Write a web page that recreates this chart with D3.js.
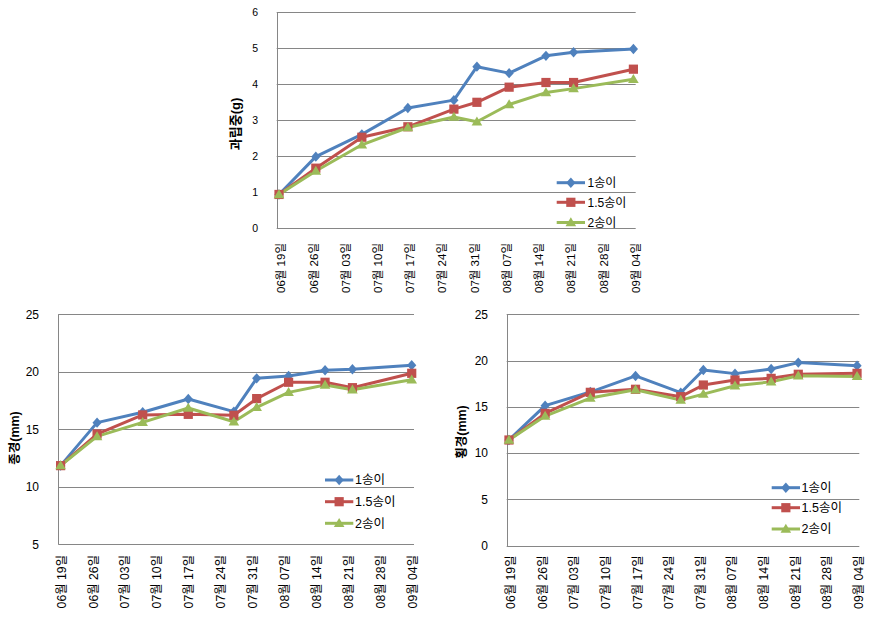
<!DOCTYPE html>
<html><head><meta charset="utf-8">
<script src="https://cdn.jsdelivr.net/npm/d3@7"></script>
<style>
body{margin:0;background:#fff}
svg{display:block}
text{font-family:"Liberation Sans","Noto Sans CJK KR",sans-serif;fill:#000}
</style>
</head><body>
<svg id="chart" width="871" height="622"></svg>
<script>
// ---------- data ----------
const sampleDates = ["2010-06-19","2010-06-27","2010-07-07","2010-07-17","2010-07-27","2010-08-01","2010-08-08","2010-08-16","2010-08-22","2010-09-04"];
const tickDates = ["2010-06-19","2010-06-26","2010-07-03","2010-07-10","2010-07-17","2010-07-24","2010-07-31","2010-08-07","2010-08-14","2010-08-21","2010-08-28","2010-09-04"];
const tickLabels = ["06월 19일","06월 26일","07월 03일","07월 10일","07월 17일","07월 24일","07월 31일","08월 07일","08월 14일","08월 21일","08월 28일","09월 04일"];
const seriesNames = ["1송이","1.5송이","2송이"];

const weight1  = [0.94, 1.99, 2.61, 3.34, 3.56, 4.49, 4.31, 4.79, 4.89, 4.98];
const weight15 = [0.94, 1.67, 2.53, 2.82, 3.31, 3.50, 3.92, 4.05, 4.05, 4.42];
const weight2  = [0.94, 1.59, 2.32, 2.80, 3.09, 2.96, 3.44, 3.77, 3.88, 4.14];

const length1  = [11.84, 15.58, 16.48, 17.64, 16.54, 19.43, 19.64, 20.13, 20.22, 20.57];
const length15 = [11.84, 14.59, 16.25, 16.30, 16.22, 17.67, 19.09, 19.09, 18.62, 19.87];
const length2  = [11.84, 14.38, 15.60, 16.85, 15.66, 16.91, 18.21, 18.85, 18.44, 19.31];

const width1  = [11.42, 15.13, 16.60, 18.34, 16.53, 18.98, 18.59, 19.09, 19.78, 19.45];
const width15 = [11.42, 14.30, 16.57, 16.90, 16.10, 17.36, 17.90, 18.08, 18.52, 18.62];
const width2  = [11.42, 14.00, 15.95, 16.85, 15.73, 16.38, 17.28, 17.70, 18.36, 18.29];

// ---------- styles / layout ----------
const colors = ["#4F81BD","#C0504D","#9BBB59"];
const diamond = {draw(ctx){ ctx.moveTo(0,-5.2); ctx.lineTo(4.6,0); ctx.lineTo(0,5.2); ctx.lineTo(-4.6,0); ctx.closePath(); }};
const square = {draw(ctx){ ctx.moveTo(-4.6,-4.6); ctx.lineTo(4.6,-4.6); ctx.lineTo(4.6,4.6); ctx.lineTo(-4.6,4.6); ctx.closePath(); }};
const triangle = {draw(ctx){ ctx.moveTo(0,-5.3); ctx.lineTo(5.3,3.7); ctx.lineTo(-5.3,3.7); ctx.closePath(); }};
const markers = [diamond, square, triangle];
const gridColor = "#868686";

const parse = d3.utcParse("%Y-%m-%d");
const dates = sampleDates.map(parse);
const ticks = tickDates.map(parse);
const halfDay = 12*3600*1000;

const panels = [
  {series:[weight1,weight15,weight2], x0:276.7, x1:635.7, yTop:12.3, yBot:228.3, min:0, max:6, step:1,
   title:"과립중(g)", titleX:235, titleY:124, tickRight:258, tickFont:10.5, labelTop:243, labelFont:11.5, labelDx:2.4,
   legX0:556.7, legX1:585, legTextX:587.5, legY:[182.7,202.3,222.5], legFont:12, titleFont:13},
  {series:[length1,length15,length2], x0:58.3, x1:414, yTop:314.3, yBot:544.3, min:5, max:25, step:5,
   title:"종경(mm)", titleX:15, titleY:438, tickRight:39, tickFont:12, labelTop:555, labelFont:12.3, labelDx:1,
   legX0:325, legX1:353.3, legTextX:355, legY:[480,501.7,523.3], legFont:12.5, titleFont:12.5},
  {series:[width1,width15,width2], x0:506.7, x1:859.3, yTop:314.3, yBot:545.7, min:0, max:25, step:5,
   title:"횡경(mm)", titleX:461.7, titleY:432, tickRight:488, tickFont:12, labelTop:555.5, labelFont:12.3, labelDx:2,
   legX0:771.7, legX1:800, legTextX:801.5, legY:[487.7,507.7,529], legFont:12.5, titleFont:12.5}
];

const svg = d3.select("#chart");

panels.forEach(p => {
  const g = svg.append("g");
  const x = d3.scaleUtc()
    .domain([new Date(ticks[0].getTime()-halfDay), new Date(ticks[ticks.length-1].getTime()+halfDay)])
    .range([p.x0, p.x1]);
  const y = d3.scaleLinear().domain([p.min, p.max]).range([p.yBot, p.yTop]);
  const yTicks = d3.range(p.min, p.max + p.step/2, p.step);

  // gridlines
  g.selectAll("line.grid").data(yTicks.filter(v => v > p.min)).enter().append("line")
    .attr("x1", p.x0).attr("x2", p.x1)
    .attr("y1", d => Math.round(y(d))+0.5).attr("y2", d => Math.round(y(d))+0.5)
    .attr("stroke", gridColor).attr("stroke-width", 1);
  // axes lines
  g.append("line").attr("x1", Math.round(p.x0)+0.5).attr("x2", Math.round(p.x0)+0.5)
    .attr("y1", p.yTop).attr("y2", Math.round(p.yBot)+0.5).attr("stroke", gridColor);
  g.append("line").attr("x1", p.x0).attr("x2", p.x1)
    .attr("y1", Math.round(p.yBot)+0.5).attr("y2", Math.round(p.yBot)+0.5).attr("stroke", gridColor);

  // y tick labels
  g.selectAll("text.yt").data(yTicks).enter().append("text")
    .attr("x", p.tickRight).attr("y", d => y(d)).attr("dy", "0.35em")
    .attr("text-anchor", "end").attr("font-size", p.tickFont).text(d => d);

  // y title
  g.append("text")
    .attr("transform", `translate(${p.titleX},${p.titleY}) rotate(-90)`)
    .attr("text-anchor", "middle").attr("dominant-baseline", "central")
    .attr("font-size", p.titleFont).attr("font-weight", "bold").text(p.title);

  // x labels
  g.selectAll("text.xt").data(ticks).enter().append("text")
    .attr("transform", (d,i) => `translate(${x(d)+p.labelDx},${p.labelTop}) rotate(-90)`)
    .attr("text-anchor", "end").attr("dominant-baseline", "central")
    .attr("font-size", p.labelFont).text((d,i) => tickLabels[i]);

  // series
  const line = d3.line().x((d,i) => x(dates[i])).y(d => y(d));
  p.series.forEach((s, k) => {
    g.append("path").datum(s).attr("d", line)
      .attr("fill", "none").attr("stroke", colors[k]).attr("stroke-width", 3)
      .attr("stroke-linejoin", "round");
  });
  p.series.forEach((s, k) => {
    g.selectAll(null).data(s).enter().append("path")
      .attr("d", d3.symbol().type(markers[k]))
      .attr("transform", (d,i) => `translate(${x(dates[i])},${y(d)})`)
      .attr("fill", colors[k]);
  });

  // legend
  seriesNames.forEach((name, k) => {
    const ly = p.legY[k];
    g.append("line").attr("x1", p.legX0).attr("x2", p.legX1).attr("y1", ly).attr("y2", ly)
      .attr("stroke", colors[k]).attr("stroke-width", 3);
    g.append("path").attr("d", d3.symbol().type(markers[k]))
      .attr("transform", `translate(${(p.legX0+p.legX1)/2},${ly})`).attr("fill", colors[k]);
    g.append("text").attr("x", p.legTextX).attr("y", ly).attr("dy", "0.35em")
      .attr("font-size", p.legFont).text(name);
  });
});
</script>
</body></html>
